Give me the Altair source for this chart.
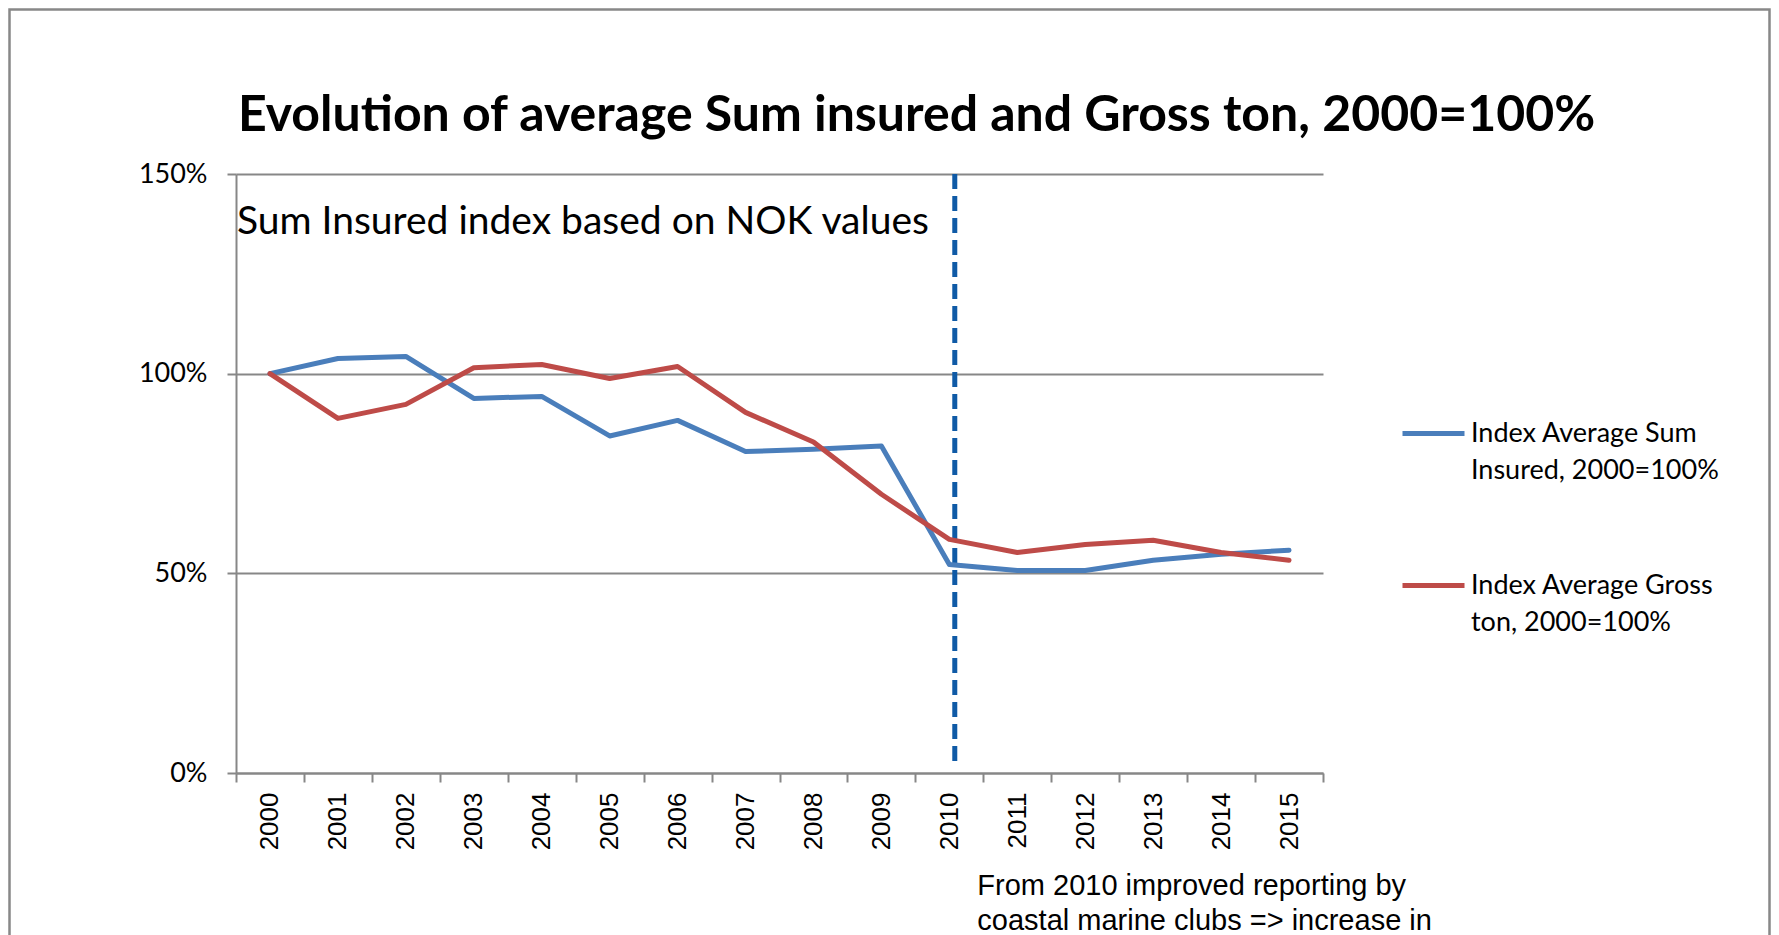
import json
import altair as alt
import pandas as pd

# ---- data ----
years = ["2000", "2001", "2002", "2003", "2004", "2005", "2006", "2007",
         "2008", "2009", "2010", "2011", "2012", "2013", "2014", "2015"]
sum_insured = [100, 103.8, 104.3, 93.8, 94.3, 84.4, 88.3, 80.5,
               81.1, 81.9, 52.2, 50.7, 50.7, 53.3, 54.8, 55.8]
gross_ton = [100, 88.8, 92.3, 101.5, 102.3, 98.8, 101.8, 90.3,
             82.9, 69.8, 58.5, 55.2, 57.2, 58.3, 55.2, 53.3]
series_names = ["Index Average Sum Insured, 2000=100%",
                "Index Average Gross ton, 2000=100%"]
legend_lines = [["Index Average Sum", "Insured, 2000=100%"],
                ["Index Average Gross", "ton, 2000=100%"]]
series_colors = ["#4A7EBB", "#BE4B48"]
y_ticks = [0, 0.5, 1.0, 1.5]

title_text = "Evolution of average Sum insured and Gross ton, 2000=100%"
note_top = ["Sum Insured index based on NOK values"]
note_top_year = ["2000"]
note_top_y = [1.351]
note_bottom = ["From 2010 improved reporting by", "coastal marine clubs => increase in"]
note_bottom_year = ["2011", "2011"]
note_bottom_y = [-0.306, -0.394]
marker_year = ["2010"]
marker_top = [1.5]
marker_bottom = [0.017]

# ---- tables ----
df = pd.DataFrame({
    "year": years + years,
    "value": [v / 100 for v in sum_insured] + [v / 100 for v in gross_ton],
    "series": [series_names[0]] * len(years) + [series_names[1]] * len(years),
})
marker_df = pd.DataFrame({"year": marker_year, "top": marker_top, "bottom": marker_bottom})
top_df = pd.DataFrame({"year": note_top_year, "y": note_top_y, "text": note_top})
bot_df = pd.DataFrame({"year": note_bottom_year, "y": note_bottom_y, "text": note_bottom})

W, H = 1087, 599
PAD = {"left": 228, "top": 166, "right": 448, "bottom": 170}
GRAY = "#878787"

xscale = alt.Scale(type="band", domain=years, paddingInner=0, paddingOuter=0)
yscale = alt.Scale(domain=[0, 1.5], nice=False, zero=True)

label_expr = " : ".join(
    f"datum.label == {json.dumps(n)} ? {json.dumps(l)}" for n, l in zip(series_names, legend_lines)
) + " : datum.label"

x_axis = alt.Axis(title=None, tickBand="extent", labelAngle=-90, labelFont="Liberation Sans",
                  labelFontSize=26, labelColor="black", tickSize=9, tickColor=GRAY, tickWidth=2,
                  domainColor=GRAY, domainWidth=2, labelPadding=10, grid=False)
y_axis = alt.Axis(title=None, values=y_ticks, format=".0%", labelFont="Lato", labelFontSize=27,
                  labelColor="black", labelPadding=20, tickSize=9, tickColor=GRAY, tickWidth=2,
                  domainColor=GRAY, domainWidth=2, grid=True, gridColor=GRAY, gridWidth=2)

lines = alt.Chart(df).mark_line(strokeWidth=5, strokeCap="round", strokeJoin="round").encode(
    x=alt.X("year:O", scale=xscale, bandPosition=0.5, axis=x_axis),
    y=alt.Y("value:Q", scale=yscale, axis=y_axis),
    color=alt.Color("series:N", scale=alt.Scale(domain=series_names, range=series_colors),
                    sort=series_names,
                    legend=alt.Legend(title=None, orient="none", legendX=1164, legendY=226,
                                      symbolType="stroke", symbolSize=3844, symbolStrokeWidth=5,
                                      labelFont="Lato", labelFontSize=27, labelColor="black",
                                      labelExpr=label_expr, rowPadding=68, padding=0,
                                      labelOffset=4, labelLimit=500)),
)

marker = alt.Chart(marker_df).mark_rule(strokeWidth=5, strokeDash=[15, 7], color="#0F5AA6").encode(
    x=alt.X("year:O", scale=xscale, bandPosition=0.58),
    y=alt.Y("top:Q", scale=yscale),
    y2="bottom:Q",
)

top_note = alt.Chart(top_df).mark_text(align="left", baseline="alphabetic", font="Lato",
                                       fontSize=39, color="black", dx=1).encode(
    x=alt.X("year:O", scale=xscale, bandPosition=0),
    y=alt.Y("y:Q", scale=yscale),
    text="text:N",
)

bottom_note = alt.Chart(bot_df).mark_text(align="left", baseline="alphabetic", font="Liberation Sans",
                                          fontSize=29, color="black", dx=-6).encode(
    x=alt.X("year:O", scale=xscale, bandPosition=0),
    y=alt.Y("y:Q", scale=yscale),
    text="text:N",
)

# outer chart frame (decoration, like the border of the original chart object)
frame = alt.Chart(pd.DataFrame({"k": [0]})).mark_rect(
    fill=None, stroke="#888888", strokeWidth=2.5
).encode(
    x=alt.value(-PAD["left"] + 1.5),
    x2=alt.value(W + PAD["right"] - 1.5),
    y=alt.value(-PAD["top"] + 1.5),
    y2=alt.value(H + PAD["bottom"] + 20),
)

chart = alt.layer(frame, marker, lines, top_note, bottom_note).properties(
    width=W, height=H,
    title=alt.TitleParams(text=title_text, font="Lato", fontSize=50, fontWeight="bold",
                          color="black", anchor="middle", frame="group", dx=137, offset=-133),
    autosize=alt.AutoSizeParams(type="none"),
    padding=PAD,
).configure(
    background="white",
    view=alt.ViewConfig(stroke=None),
    style={"guide-label": {"lineHeight": 37}},
)

chart.save("out.html", embed_options={"renderer": "svg", "actions": False})
